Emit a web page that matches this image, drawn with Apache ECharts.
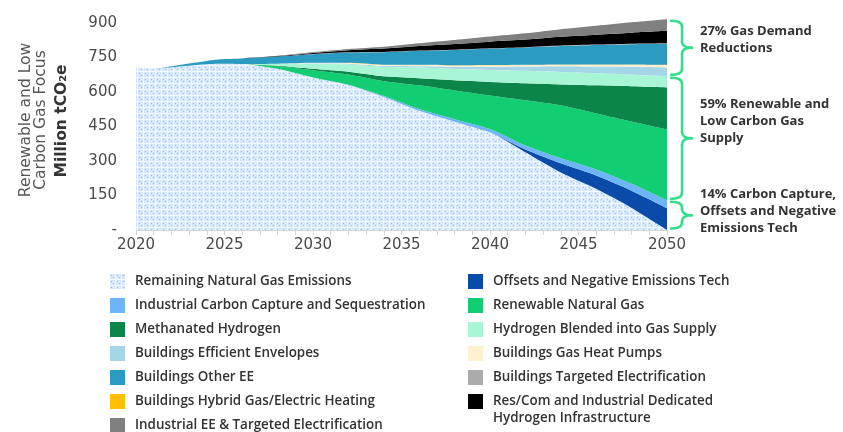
<!DOCTYPE html>
<html>
<head>
<meta charset="utf-8">
<script src="https://cdn.jsdelivr.net/npm/echarts@6/dist/echarts.min.js"></script>
<style>
  html, body { margin: 0; padding: 0; background: #fff; }
  #chart { width: 843px; height: 432px; }
</style>
</head>
<body>
<div id="chart"></div>
<script>
// years (not every year, just the ones read)
const years = [2020, 2021, 2022, 2024, 2025, 2026, 2028, 2030, 2032, 2034, 2036, 2038, 2040, 2042, 2044, 2046, 2048, 2050]

// stacked bands, bottom to top, Million tCO2e
const remaining = [705, 702, 708, 721, 723, 722, 701, 663, 630, 578, 518, 471, 425, 338, 250, 179, 96, 0]
const offsets = [0, 0, 0, 0, 0, 0, 0, 0, 0, 0, 0, 0, 0, 12, 40, 58, 75, 95]
const industrialCcs = [0, 0, 0, 0, 0, 0, 0, 0, 2, 5, 8, 11, 14, 17, 22, 26, 30, 34]
const renewableGas = [0, 0, 0, 0, 0, 0, 11, 32, 44, 64, 103, 125, 146, 197, 230, 244, 271, 308]
const methanatedH2 = [0, 0, 0, 0, 0, 0, 2, 6, 12, 21, 31, 44, 59, 74, 91, 122, 153, 183]
const h2Blended = [0, 0, 0, 0, 0, 0, 8, 22, 32, 42, 46, 49, 52, 54, 54, 52, 50, 48]
const envelopes = [0, 0, 0, 0, 0, 0, 0, 2, 3, 4, 6, 10, 14, 19, 25, 30, 35, 39]
const heatPumps = [0, 0, 0, 0, 0, 0, 1, 2, 3, 4, 5, 5, 6, 6, 7, 8, 9, 10]
const hybridHeating = [0, 0, 0, 0, 0, 0, 0, 0, 1, 1, 1, 1, 1, 1, 1, 1, 1, 1]
const otherEE = [0, 0, 4, 14, 20, 24, 31, 37, 45, 54, 61, 67, 72, 76, 80, 84, 88, 92]
const bldgElectrification = [0, 0, 0, 0, 0, 0, 0, 1, 1, 1, 1, 1, 1, 1, 2, 2, 2, 2]
const h2Infrastructure = [0, 0, 0, 0, 0, 0, 2, 5, 9, 15, 20, 25, 29, 33, 38, 43, 48, 54]
const industrialEE = [0, 0, 0, 0, 0, 0, 2, 3, 5, 8, 12, 17, 22, 27, 33, 39, 45, 50]

const yTicks = [0, 150, 300, 450, 600, 750, 900]

const braceLabels = [
  '27% Gas Demand\nReductions',
  '59% Renewable and\nLow Carbon Gas\nSupply',
  '14% Carbon Capture,\nOffsets and Negative\nEmissions Tech'
]

const REMAINING = 'Remaining Natural Gas Emissions'
const H2_NAME = 'Res/Com and Industrial Dedicated Hydrogen Infrastructure'

function makeDots() {
  const c = document.createElement('canvas')
  c.width = 6
  c.height = 6
  const ctx = c.getContext('2d')
  ctx.fillStyle = '#f4f9ff'
  ctx.fillRect(0, 0, 6, 6)
  ctx.fillStyle = '#d3e6fc'
  ctx.fillRect(0, 0, 5, 5)
  ctx.fillStyle = '#8fc2f6'
  ctx.fillRect(1, 1, 1, 1)
  ctx.fillRect(3, 3, 1, 1)
  ctx.fillStyle = '#e8f2fd'
  ctx.fillRect(3, 1, 1, 1)
  ctx.fillRect(1, 3, 1, 1)
  return c
}

const dots = { image: makeDots(), repeat: 'repeat' }

// value first, year second: with two value axes echarts stacks the first
// numeric dimension, so the value has to come first
function band(name, values, color, fill) {
  return {
    name,
    type: 'line',
    stack: 'total',
    stackStrategy: 'all',
    smooth: 0.25,
    symbol: 'none',
    clip: false,
    encode: { x: 1, y: 0 },
    data: years.map((y, i) => [values[i], y]),
    lineStyle: { width: 0, color },
    itemStyle: { color },
    areaStyle: { color: fill || color, opacity: 1 },
    emphasis: { disabled: true },
    silent: true
  }
}

const series = [
  band(REMAINING, remaining, '#cfe3fb', dots),
  band('Offsets and Negative Emissions Tech', offsets, '#0a4ba9'),
  band('Industrial Carbon Capture and Sequestration', industrialCcs, '#6db5f6'),
  band('Renewable Natural Gas', renewableGas, '#12cd72'),
  band('Methanated Hydrogen', methanatedH2, '#0b854a'),
  band('Hydrogen Blended into Gas Supply', h2Blended, '#a9f6d6'),
  band('Buildings Efficient Envelopes', envelopes, '#a4d6e8'),
  band('Buildings Gas Heat Pumps', heatPumps, '#fff1cf'),
  band('Buildings Hybrid Gas/Electric Heating', hybridHeating, '#ffc000'),
  band('Buildings Other EE', otherEE, '#2b9bc2'),
  band('Buildings Targeted Electrification', bldgElectrification, '#ababab'),
  band(H2_NAME, h2Infrastructure, '#000000'),
  band('Industrial EE & Targeted Electrification', industrialEE, '#808080')
]

const legendText = {
  fontFamily: 'Open Sans',
  fontWeight: 600,
  fontSize: 13.4,
  color: '#333',
  padding: [0, 0, 0, 5]
}

function legendBlock(left, top, data, extra) {
  return Object.assign({
    left,
    top,
    padding: 0,
    orient: 'vertical',
    icon: 'rect',
    itemWidth: 15,
    itemHeight: 15,
    itemGap: 9,
    selectedMode: false,
    textStyle: legendText,
    data
  }, extra || {})
}

const chart = echarts.init(document.getElementById('chart'))

chart.setOption({
  animation: false,
  grid: { left: 136, right: 176, top: 23, bottom: 202 },
  xAxis: {
    type: 'value',
    min: 2020,
    max: 2050,
    interval: 5,
    axisLine: { lineStyle: { color: '#d6d6d6', width: 1 } },
    axisTick: { show: true, length: 5, lineStyle: { color: '#d6d6d6' } },
    minorTick: { show: true, splitNumber: 5, length: 5, lineStyle: { color: '#d6d6d6' } },
    splitLine: { show: false },
    axisLabel: {
      margin: 8,
      fontFamily: 'DejaVu Sans',
      fontSize: 15,
      color: '#4a4a4a',
      formatter: (v) => String(v)
    }
  },
  yAxis: {
    type: 'value',
    min: yTicks[0],
    max: yTicks[yTicks.length - 1],
    interval: 150,
    axisLine: { show: false },
    axisTick: { show: false },
    splitLine: { show: false },
    axisLabel: {
      margin: 19,
      fontFamily: 'DejaVu Sans',
      fontSize: 15,
      color: '#4a4a4a',
      formatter: (v) => (v === 0 ? '-' : String(v))
    }
  },
  legend: [
    legendBlock(110, 274, [
      { name: REMAINING, itemStyle: { color: dots } },
      'Industrial Carbon Capture and Sequestration',
      'Methanated Hydrogen',
      'Buildings Efficient Envelopes',
      'Buildings Other EE',
      'Buildings Hybrid Gas/Electric Heating'
    ]),
    legendBlock(110, 418, ['Industrial EE & Targeted Electrification']),
    legendBlock(468, 274, [
      'Offsets and Negative Emissions Tech',
      'Renewable Natural Gas',
      'Hydrogen Blended into Gas Supply',
      'Buildings Gas Heat Pumps',
      'Buildings Targeted Electrification'
    ]),
    legendBlock(468, 394, [H2_NAME], {
      formatter: () => 'Res/Com and Industrial Dedicated'
    })
  ],
  series
})

// brace boundaries at 2050 come from the stacked data
const last = years.length - 1
const ccsTop = remaining[last] + offsets[last] + industrialCcs[last]
const supplyTop = ccsTop + renewableGas[last] + methanatedH2[last] + h2Blended[last]
const total = series.reduce((sum, s) => sum + s.data[last][0], 0)

function yPx(v) {
  return chart.convertToPixel({ xAxisIndex: 0, yAxisIndex: 0 }, [2050, v])[1]
}

const braceStyle = { stroke: '#35de8d', lineWidth: 2.5, fill: null, lineCap: 'round' }

function brace(y1, y2) {
  const xl = 671
  const xs = 682
  const xt = 692
  const ym = (y1 + y2) / 2
  const r = Math.min(6, (y2 - y1) / 4)
  const curve = (x1, yA, cx, cy, x2, yB) => ({
    type: 'bezierCurve',
    shape: { x1, y1: yA, cpx1: cx, cpy1: cy, x2, y2: yB },
    style: braceStyle,
    silent: true
  })
  const line = (yA, yB) => ({
    type: 'line',
    shape: { x1: xs, y1: yA, x2: xs, y2: yB },
    style: braceStyle,
    silent: true
  })
  return [
    curve(xl, y1, xs, y1, xs, y1 + r),
    line(y1 + r, ym - r),
    curve(xs, ym - r, xs, ym, xt, ym),
    curve(xt, ym, xs, ym, xs, ym + r),
    line(ym + r, y2 - r),
    curve(xs, y2 - r, xs, y2, xl, y2)
  ]
}

const spans = [
  [yPx(total), yPx(supplyTop)],
  [yPx(supplyTop), yPx(ccsTop)],
  [yPx(ccsTop), yPx(0)]
]
const labelTops = [23, 96, 186]

const graphics = []
spans.forEach(([a, b], i) => {
  graphics.push(...brace(a + 1.5, b - 1.5))
  graphics.push({
    type: 'text',
    x: 700,
    y: labelTops[i],
    style: {
      text: braceLabels[i],
      fontFamily: 'Open Sans',
      fontWeight: 700,
      fontSize: 13,
      lineHeight: 17,
      fill: '#333'
    },
    silent: true
  })
})

// second line of the last legend entry
graphics.push({
  type: 'text',
  x: 493,
  y: 418,
  style: {
    text: 'Hydrogen Infrastructure',
    fontFamily: 'Open Sans',
    fontWeight: 600,
    fontSize: 13.4,
    fill: '#333',
    verticalAlign: 'middle'
  },
  silent: true
})

graphics.push({
  type: 'text',
  x: 33,
  y: 120,
  rotation: Math.PI / 2,
  style: {
    text: 'Renewable and Low\nCarbon Gas Focus',
    fontFamily: 'DejaVu Sans',
    fontSize: 15.5,
    lineHeight: 15,
    fill: '#555',
    align: 'center',
    verticalAlign: 'middle'
  },
  silent: true
})
graphics.push({
  type: 'text',
  x: 62,
  y: 121,
  rotation: Math.PI / 2,
  style: {
    text: 'Million tCO₂e',
    fontFamily: 'DejaVu Sans',
    fontWeight: 'bold',
    fontSize: 15.5,
    fill: '#333',
    align: 'center',
    verticalAlign: 'middle'
  },
  silent: true
})

chart.setOption({ graphic: graphics })
</script>
</body>
</html>
